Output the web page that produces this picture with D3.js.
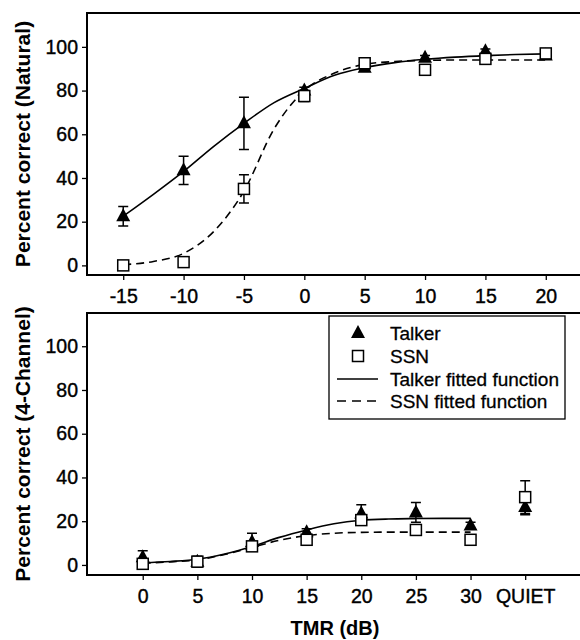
<!DOCTYPE html>
<html>
<head>
<meta charset="utf-8">
<script src="https://cdnjs.cloudflare.com/ajax/libs/d3/7.8.5/d3.min.js"></script>
<style>
  body { margin: 0; background: #fff; }
  text { font-family: "Liberation Sans", Arial, sans-serif; fill: #000; }
</style>
</head>
<body>
<script>
// ---- data ----
// top panel (Natural)
var topLevels = [-15, -10, -5, 0, 5, 10, 15, 20]
var topTalker = [22.5, 43.5, 65, 80, 90.5, 95, 98, 96]
var topTalkerErr = [4.5, 6.5, 12, 1.5, 1, 1, 1, 1]
var topSSN = [0, 1.5, 35, 77.5, 92.5, 89.5, 94.5, 97]
var topSSNErr = [0.5, 0.5, 6.5, 2.5, 1, 1, 1, 1]

// fitted curves, read every 2.5 dB
var topFitLevels = [-15, -12.5, -10, -7.5, -5, -2.5, 0, 2.5, 5, 7.5, 10, 12.5, 15, 17.5, 20]
var topTalkerFit = [22.5, 32.5, 43, 54.5, 65, 74.5, 81, 87, 90.5, 92.8, 94.3, 95.3, 96, 96.5, 96.8]
var topSSNFit = [0.3, 1.8, 5.5, 15.5, 34, 62.5, 80, 88, 92, 93.3, 93.8, 94, 94, 94, 94]

// bottom panel (4-Channel) -- 35 is where QUIET sits
var botLevels = [0, 5, 10, 15, 20, 25, 30, 35]
var botTalker = [3.5, 1.5, 10.5, 15, 23.5, 24, 18, 26.5]
var botTalkerErr = [3, 1, 4, 1.5, 4, 4.5, 1.5, 3.5]
var botSSN = [0.5, 1.5, 8.5, 11.5, 20.5, 16, 11.5, 31]
var botSSNErr = [1.5, 2.5, 2, 1, 2, 2, 1, 7.5]

var botFitLevels = [0, 2.5, 5, 7.5, 10, 12.5, 15, 17.5, 20, 22.5, 25, 27.5, 30]
var botTalkerFit = [1, 1.6, 2.6, 5, 8.4, 12.6, 16, 18.8, 20.4, 21, 21.2, 21.3, 21.3]
var botSSNFit = [0.8, 1.4, 2.3, 4.8, 8, 11.3, 13.4, 14.5, 14.9, 15, 15, 15, 15]

var yTicks = [0, 20, 40, 60, 80, 100]
var topXTicks = [-15, -10, -5, 0, 5, 10, 15, 20]
var botXTicks = [0, 5, 10, 15, 20, 25, 30, 35]
var botXLabels = ["0", "5", "10", "15", "20", "25", "30", "QUIET"]

var legendLabels = ["Talker", "SSN", "Talker fitted function", "SSN fitted function"]

// ---- svg ----
var width = 580
var height = 640

var svg = d3.select("body")
    .append("svg")
    .attr("width", width)
    .attr("height", height)

var left = 87, right = 582

// top panel scales
var xTop = d3.scaleLinear().domain([-18, 23]).range([left, right])
var yTop = d3.scaleLinear().domain([-4.4, 115.5]).range([275, 13])

// bottom panel scales
var xBot = d3.scaleLinear().domain([-5.1, 40.2]).range([left, right])
var yBot = d3.scaleLinear().domain([-4.6, 115.2]).range([575, 313])

drawPanel(xTop, yTop, topXTicks, function(d){ return d }, "Percent correct (Natural)")
drawPanel(xBot, yBot, botXTicks, function(d, i){ return botXLabels[i] }, "Percent correct (4-Channel)")

drawFit(xTop, yTop, topFitLevels, topTalkerFit, false)
drawFit(xTop, yTop, topFitLevels, topSSNFit, true)
drawFit(xBot, yBot, botFitLevels, botTalkerFit, false)
drawFit(xBot, yBot, botFitLevels, botSSNFit, true)

drawPoints(xTop, yTop, topLevels, topTalker, topTalkerErr, "tri")
drawPoints(xTop, yTop, topLevels, topSSN, topSSNErr, "sq")
drawPoints(xBot, yBot, botLevels, botTalker, botTalkerErr, "tri")
drawPoints(xBot, yBot, botLevels, botSSN, botSSNErr, "sq")

// x axis title
svg.append("text")
    .attr("x", 335)
    .attr("y", 635)
    .attr("text-anchor", "middle")
    .attr("font-size", 20)
    .attr("font-weight", "bold")
    .text("TMR (dB)")

drawLegend()

function drawPanel(x, y, xTicks, fmt, label) {
    var y0 = y.range()[0], y1 = y.range()[1]

    var xAxis = d3.axisBottom(x).tickValues(xTicks).tickFormat(fmt)
        .tickSize(5).tickPadding(9)
    var yAxis = d3.axisLeft(y).tickValues(yTicks).tickSize(5).tickPadding(4)

    var gx = svg.append("g").attr("transform", "translate(0," + y0 + ")").call(xAxis)
    var gy = svg.append("g").attr("transform", "translate(" + left + ",0)").call(yAxis)

    ;[gx, gy].forEach(function(g){
        g.select(".domain").remove()
        g.selectAll("line").attr("stroke", "#000").attr("stroke-width", 1.3)
        g.selectAll("text")
            .attr("font-size", 19.5)
            .attr("font-family", "Liberation Sans, Arial, sans-serif")
            .attr("fill", "#000")
            .attr("stroke", "#000")
            .attr("stroke-width", 0.4)
    })

    // frame: left, top, bottom (right side runs off the picture)
    svg.append("path")
        .attr("d", "M" + right + "," + y1 + "H" + left + "V" + y0 + "H" + right)
        .attr("fill", "none")
        .attr("stroke", "#000")
        .attr("stroke-width", 2)

    svg.append("text")
        .attr("transform", "translate(30," + ((y0 + y1) / 2) + ") rotate(-90)")
        .attr("text-anchor", "middle")
        .attr("font-size", 21)
        .attr("font-weight", "bold")
        .text(label)
}

function drawFit(x, y, xs, ys, dashed) {
    var line = d3.line()
        .x(function(d){ return x(d[0]) })
        .y(function(d){ return y(d[1]) })
        .curve(d3.curveMonotoneX)

    svg.append("path")
        .attr("d", line(xs.map(function(v, i){ return [v, ys[i]] })))
        .attr("fill", "none")
        .attr("stroke", "#000")
        .attr("stroke-width", 1.6)
        .attr("stroke-dasharray", dashed ? "8,5" : null)
}

function drawPoints(x, y, xs, ys, errs, shape) {
    var g = svg.append("g")
    xs.forEach(function(v, i){
        var cx = x(v), cy = y(ys[i])
        var top = y(ys[i] + errs[i]), bot = y(ys[i] - errs[i])
        g.append("path")
            .attr("d", "M" + cx + "," + top + "V" + bot +
                "M" + (cx - 5) + "," + top + "H" + (cx + 5) +
                "M" + (cx - 5) + "," + bot + "H" + (cx + 5))
            .attr("stroke", "#000")
            .attr("stroke-width", 1.5)
            .attr("fill", "none")
        drawMarker(g, cx, cy, shape)
    })
}

function drawMarker(g, cx, cy, shape) {
    if (shape == "tri") {
        g.append("path")
            .attr("d", "M" + cx + "," + (cy - 8) + "L" + (cx + 7) + "," + (cy + 5) + "L" + (cx - 7) + "," + (cy + 5) + "Z")
            .attr("fill", "#000")
    } else {
        g.append("rect")
            .attr("x", cx - 5.5)
            .attr("y", cy - 5.5)
            .attr("width", 11)
            .attr("height", 11)
            .attr("fill", "#fff")
            .attr("stroke", "#000")
            .attr("stroke-width", 1.5)
    }
}

function drawLegend() {
    var g = svg.append("g")
    g.append("rect")
        .attr("x", 329).attr("y", 316)
        .attr("width", 236).attr("height", 103)
        .attr("fill", "#fff")
        .attr("stroke", "#000")
        .attr("stroke-width", 1.3)

    var rowY = [333, 356, 379, 401]
    drawMarker(g, 358, rowY[0], "tri")
    drawMarker(g, 358, rowY[1], "sq")
    g.append("line").attr("x1", 337).attr("x2", 378).attr("y1", rowY[2]).attr("y2", rowY[2])
        .attr("stroke", "#000").attr("stroke-width", 1.5)
    g.append("line").attr("x1", 337).attr("x2", 378).attr("y1", rowY[3]).attr("y2", rowY[3])
        .attr("stroke", "#000").attr("stroke-width", 1.5).attr("stroke-dasharray", "9,6")

    g.selectAll(".lab")
        .data(legendLabels)
        .enter()
        .append("text")
        .attr("x", 390)
        .attr("y", function(d, i){ return rowY[i] + 6.5 })
        .attr("font-size", 19)
        .attr("stroke", "#000")
        .attr("stroke-width", 0.3)
        .text(function(d){ return d })
}
</script>
</body>
</html>
